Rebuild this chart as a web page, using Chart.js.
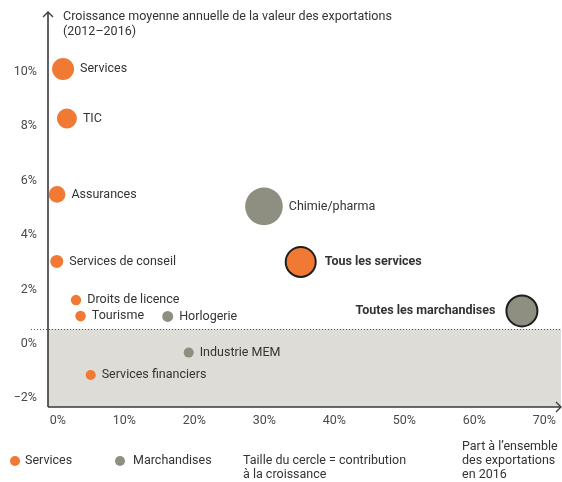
<!DOCTYPE html>
<html>
<head>
<meta charset="utf-8">
<script src="https://cdn.jsdelivr.net/npm/chart.js@4/dist/chart.umd.min.js"></script>
<style>
  html, body { margin: 0; padding: 0; background: #fff; }
  #wrap { width: 562px; height: 482px; position: relative; }
</style>
</head>
<body>
<div id="wrap"><canvas id="c" width="562" height="482"></canvas></div>
<script>
// ---- Data ----
const serviceNames = ["Services", "TIC", "Assurances", "Services de conseil", "Droits de licence", "Tourisme", "Services financiers", "Tous les services"];
const serviceShare = [1.25, 1.8, 0.4, 0.35, 3.1, 3.75, 5.2, 35.2];          // % of total exports 2016
const serviceGrowth = [10.1, 8.28, 5.49, 3.03, 1.61, 1.02, -1.14, 3.01];    // avg annual growth 2012–2016
const serviceContribution = [11, 10, 8.3, 6.5, 5.2, 5.3, 5, 15];            // circle size

const goodsNames = ["Chimie/pharma", "Horlogerie", "Industrie MEM", "Toutes les marchandises"];
const goodsShare = [29.95, 16.2, 19.2, 66.8];
const goodsGrowth = [5.05, 1.01, -0.32, 1.21];
const goodsContribution = [18.8, 5.5, 5, 15.5];

const totalNames = ["Tous les services", "Toutes les marchandises"];
const xTicks = [0, 10, 20, 30, 40, 50, 60, 70];
const yTicks = [-2, 0, 2, 4, 6, 8, 10];
const thresholdValue = 0.55;

const X_MIN = -0.9, X_MAX = 72.24;
const Y_MIN = -2.318, Y_MAX = 12.08;

// ---- Styles ----
const ORANGE = "#f07a33";
const GREY = "#8e8f80";
const AREA = "#dddcd6";
const TEXT = "#333333";
const AXIS = "#3a3a3a";
const FONT = "Roboto, 'DejaVu Sans', sans-serif";
const FS = 12.5;

function points(names, xs, ys, rs) {
  return names.map((n, i) => ({ x: xs[i], y: ys[i], r: rs[i], name: n }));
}

const labelPlugin = {
  id: "decor",
  beforeDatasetsDraw(chart) {
    const ctx = chart.ctx;
    const xs = chart.scales.x, ys = chart.scales.y;
    const ty = ys.getPixelForValue(thresholdValue);
    ctx.save();
    // shaded zone
    ctx.fillStyle = AREA;
    ctx.fillRect(xs.left, ty, xs.right + 1 - xs.left, ys.bottom - ty);
    // dotted line
    ctx.strokeStyle = "#555";
    ctx.lineWidth = 1;
    ctx.setLineDash([1, 2]);
    ctx.beginPath();
    ctx.moveTo(31, Math.round(ty) + 0.5);
    ctx.lineTo(562, Math.round(ty) + 0.5);
    ctx.stroke();
    ctx.setLineDash([]);
    // axes
    const ax = xs.left, ay = ys.bottom;
    ctx.strokeStyle = AXIS;
    ctx.lineWidth = 1.6;
    ctx.beginPath();
    ctx.moveTo(ax, ay);
    ctx.lineTo(ax, 12);
    ctx.moveTo(ax, ay);
    ctx.lineTo(561, ay);
    ctx.stroke();
    ctx.lineWidth = 1.4;
    ctx.beginPath();
    ctx.moveTo(ax - 5, 17); ctx.lineTo(ax, 12); ctx.lineTo(ax + 5, 17);
    ctx.moveTo(556, ay - 5); ctx.lineTo(561, ay); ctx.lineTo(556, ay + 5);
    ctx.stroke();
    ctx.restore();
  },
  afterDatasetsDraw(chart) {
    const ctx = chart.ctx;
    ctx.save();
    ctx.textBaseline = "middle";
    ctx.fillStyle = TEXT;
    chart.data.datasets.forEach((ds, di) => {
      const meta = chart.getDatasetMeta(di);
      meta.data.forEach((el, i) => {
        const p = ds.data[i];
        const isTotal = totalNames.includes(p.name);
        const r = el.options.radius + (el.options.borderWidth || 0) / 2;
        ctx.font = (isTotal ? "bold " : "") + FS + "px " + FONT;
        if (p.name === "Toutes les marchandises") {
          ctx.textAlign = "right";
          ctx.fillText(p.name, el.x - r - 10, el.y);
        } else {
          ctx.textAlign = "left";
          ctx.fillText(p.name, el.x + r + (isTotal ? 8 : 6), el.y);
        }
      });
    });
    // axis titles
    ctx.font = FS + "px " + FONT;
    ctx.textAlign = "left";
    ctx.fillText("Croissance moyenne annuelle de la valeur des exportations", 63, 17);
    ctx.fillText("(2012–2016)", 63, 32);
    ctx.fillText("Part à l’ensemble", 462, 447);
    ctx.fillText("des exportations", 462, 461);
    ctx.fillText("en 2016", 462, 475);
    // legend
    ctx.fillStyle = ORANGE;
    ctx.beginPath(); ctx.arc(15, 461, 5, 0, Math.PI * 2); ctx.fill();
    ctx.fillStyle = GREY;
    ctx.beginPath(); ctx.arc(120, 461, 5, 0, Math.PI * 2); ctx.fill();
    ctx.fillStyle = TEXT;
    ctx.fillText("Services", 25, 461);
    ctx.fillText("Marchandises", 133, 461);
    ctx.fillText("Taille du cercle = contribution", 243, 461);
    ctx.fillText("à la croissance", 243, 475);
    ctx.restore();
  }
};

const borderFor = (ctx) => {
  const p = ctx.raw;
  return p && totalNames.includes(p.name) ? 2 : 0;
};

new Chart(document.getElementById("c"), {
  type: "bubble",
  data: {
    datasets: [
      {
        label: "Services",
        data: points(serviceNames, serviceShare, serviceGrowth, serviceContribution),
        backgroundColor: ORANGE,
        borderColor: "#1e1e1e",
        borderWidth: borderFor,
        clip: false
      },
      {
        label: "Marchandises",
        data: points(goodsNames, goodsShare, goodsGrowth, goodsContribution),
        backgroundColor: GREY,
        borderColor: "#1e1e1e",
        borderWidth: borderFor,
        clip: false
      }
    ]
  },
  options: {
    responsive: false,
    animation: false,
    events: [],
    layout: { autoPadding: false, padding: { top: 15, right: 2, left: 0, bottom: 0 } },
    plugins: { legend: { display: false }, tooltip: { enabled: false } },
    scales: {
      x: {
        type: "linear",
        min: X_MIN, max: X_MAX,
        grid: { display: false, drawTicks: false },
        border: { display: false },
        afterBuildTicks: (s) => { s.ticks = xTicks.map(v => ({ value: v })); },
        afterFit: (s) => { s.height = 75; s.paddingLeft = 0; s.paddingRight = 0; },
        ticks: {
          align: "end",
          labelOffset: 11.7,
          padding: 6,
          maxRotation: 0,
          autoSkip: false,
          color: "#4a4a4a",
          font: { family: FONT, size: FS },
          callback: (v) => v + "%"
        }
      },
      y: {
        type: "linear",
        min: Y_MIN, max: Y_MAX,
        grid: { display: false, drawTicks: false },
        border: { display: false },
        afterBuildTicks: (s) => { s.ticks = yTicks.map(v => ({ value: v })); },
        afterFit: (s) => { s.width = 48; s.paddingTop = 0; s.paddingBottom = 0; },
        ticks: {
          padding: 11,
          autoSkip: false,
          color: "#4a4a4a",
          font: { family: FONT, size: FS },
          callback: (v) => (v < 0 ? "−" + Math.abs(v) : v) + "%"
        }
      }
    }
  },
  plugins: [labelPlugin]
});
</script>
</body>
</html>
